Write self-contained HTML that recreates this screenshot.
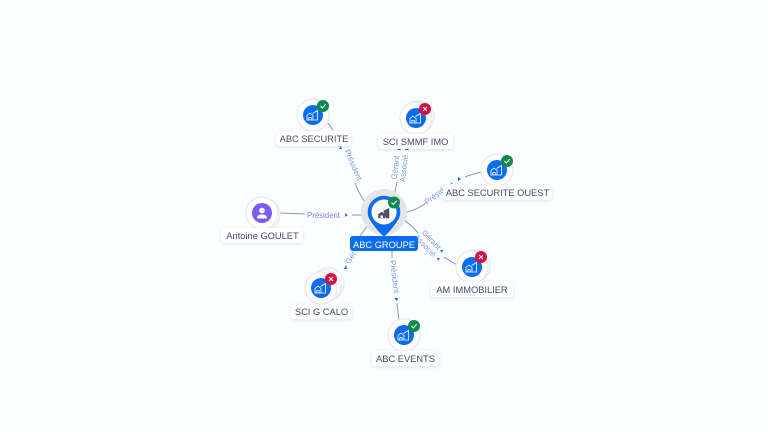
<!DOCTYPE html>
<html><head><meta charset="utf-8">
<style>
html,body{margin:0;padding:0;background:#fbfdff;width:768px;height:432px;overflow:hidden}
svg{display:block}
.lab{font:9.3px "Liberation Sans",sans-serif;fill:#3f4a70;text-anchor:middle}
.edge{font:7.8px "Liberation Sans",sans-serif;fill:#7a98ea;text-anchor:middle}
.ln{fill:none;stroke:#8f95ab;stroke-width:1}
.wh{fill:#fff;stroke:#e6e8ee;stroke-width:1.2}
</style></head>
<body>
<svg width="768" height="432" viewBox="0 0 768 432" xmlns="http://www.w3.org/2000/svg">
<defs>
<filter id="s" x="-20%" y="-40%" width="140%" height="200%"><feDropShadow dx="0" dy="1" stdDeviation="1.6" flood-color="#8090b0" flood-opacity=".25"/></filter>
<g id="house"><circle r="10" fill="#0c6cf0"/><path d="M-6 5V.5L-3-2 0 .5V5M-4.200 5V2.500H-1.800V5M-.5-1.500 4.500-4.500V5H-6.500" fill="none" stroke="#fff" stroke-width=".8"/></g>
<g id="ok"><circle r="6" fill="#0f8a4a"/><path d="M-2.500 0-.7 2 2.700-1.800" fill="none" stroke="#fff" stroke-width="1"/></g>
<g id="ko"><circle r="6" fill="#d20f45"/><path d="M-2-2 2 2M2-2-2 2" fill="none" stroke="#fff" stroke-width="1"/></g>
</defs>

<!-- connectors -->
<path class="ln" d="M328 123 333 130"/>
<path class="ln" d="M355 183Q360 197 370 209"/>
<path class="ln" d="M397 182 394 197"/>
<path class="ln" d="M398 214Q416 211 426 203"/>
<path class="ln" d="M465 177Q472 174 482 172"/>
<path class="ln" d="M400 218Q410 223 418 233"/>
<path class="ln" d="M444 257Q450 261 457 265"/>
<path class="ln" d="M392 250V258"/>
<path class="ln" d="M397 303 399 321"/>
<path class="ln" d="M370 222 360 236"/>
<path class="ln" d="M280 213 305 214"/>
<path class="ln" d="M352 215H368"/>

<!-- edge labels -->
<text x="323.500" y="218" class="edge" style="fill:#8b78ee">Président</text>
<path d="M345 213 348 215 345 217Z" fill="#7b5cf0"/>
<text class="edge" transform="translate(351,166) rotate(67)">Président</text>
<path d="M339 149 340.500 146 342 149Z" fill="#0c6cf0"/>
<g transform="translate(400,168) rotate(-83)"><text class="edge" y="-2">Gérant</text><text class="edge" y="6.500">Associé</text></g>
<path d="M397 150 399 147 401 150ZM405 150 407 147 409 150Z" fill="#0c6cf0"/>
<text class="edge" transform="translate(436,198) rotate(-38)">Présid</text>
<path d="M458 177 461 179 458 181Z" fill="#0c6cf0"/>
<path d="M451 182.500 453 183 451 184.500Z" fill="#5d7fdd"/>
<g transform="translate(428,243) rotate(47)"><text class="edge" y="-2">Gérant</text><text class="edge" y="6.500">Associé</text></g>
<path d="M440 250 443 250 442 253ZM437 258 440 258 438 261Z" fill="#0c6cf0"/>
<text class="edge" transform="translate(392,277) rotate(83)">Président</text>
<path d="M394.500 298 398.500 298 396.500 301Z" fill="#0c6cf0"/>
<text class="edge" transform="translate(353,259) rotate(-58)">Gér</text>
<path d="M344 269 346 265 347 269Z" fill="#0c6cf0"/>

<!-- ABC SECURITE -->
<g transform="translate(313,115)"><circle class="wh" r="16"/><use href="#house"/><use href="#ok" x="10" y="-9"/></g>
<rect x="276" y="131" width="75" height="15" rx="3" fill="#fff" filter="url(#s)"/>
<text x="314" y="142" class="lab">ABC SECURITE</text>

<!-- SCI SMMF IMO -->
<g transform="translate(416,118)"><circle class="wh" cx="2" cy="-1" r="16"/><circle class="wh" r="16"/><use href="#house"/><use href="#ko" x="9" y="-9"/></g>
<rect x="378" y="134" width="75" height="15" rx="3" fill="#fff" filter="url(#s)"/>
<text x="415.500" y="145" class="lab">SCI SMMF IMO</text>

<!-- OUEST -->
<g transform="translate(497,170)"><circle class="wh" r="16"/><use href="#house"/><use href="#ok" x="10" y="-9"/></g>
<rect x="443" y="185" width="109" height="15" rx="3" fill="#fff" filter="url(#s)"/>
<text x="497.500" y="196" class="lab">ABC SECURITE OUEST</text>

<!-- AM IMMOBILIER -->
<g transform="translate(472,267)"><circle class="wh" cx="2" cy="-1" r="16"/><circle class="wh" r="16"/><use href="#house"/><use href="#ko" x="9" y="-10"/></g>
<rect x="431" y="282" width="82" height="15" rx="3" fill="#fff" filter="url(#s)"/>
<text x="472" y="293" class="lab">AM IMMOBILIER</text>

<!-- ABC EVENTS -->
<g transform="translate(404,335)"><circle class="wh" r="16"/><use href="#house"/><use href="#ok" x="10" y="-9"/></g>
<rect x="372" y="351" width="67" height="15" rx="3" fill="#fff" filter="url(#s)"/>
<text x="405.500" y="362" class="lab">ABC EVENTS</text>

<!-- SCI G CALO -->
<g transform="translate(321,288)"><circle class="wh" cx="7" cy="-4" r="16"/><circle class="wh" cx="4" cy="-2" r="16"/><circle class="wh" r="16"/><use href="#house"/><use href="#ko" x="10" y="-9"/></g>
<rect x="291" y="304" width="61" height="15" rx="3" fill="#fff" filter="url(#s)"/>
<text x="321.500" y="315" class="lab">SCI G CALO</text>

<!-- Antoine -->
<g transform="translate(262,213)"><circle class="wh" cx="2" cy="1" r="16"/><circle class="wh" r="16"/><circle r="10" fill="#7b5cf0"/><circle cy="-2.500" r="2.800" fill="#fff"/><path d="M-5 5.500C-5 2-2.500 1.500 0 1.500S5 2 5 5.500Z" fill="#fff"/></g>
<rect x="221" y="228" width="82" height="15" rx="3" fill="#fff" filter="url(#s)"/>
<text x="262.500" y="239" class="lab">Antoine GOULET</text>

<!-- Center -->
<circle cx="384" cy="212" r="23" fill="#e3e5e9"/>
<path d="M368.800 218A16.300 16.300 0 1 1 399.200 218Q394 227 386 235Q384 237 382 235Q374 227 368.800 218Z" fill="#0c6cf0"/>
<circle cx="384" cy="212" r="12.500" fill="#fff"/>
<path d="M378.500 218V214.500L382 212 385 214.500V218ZM383.500 211 389 208.500V218H386" fill="#4a5168" stroke="#4a5168" stroke-width=".6"/>
<path d="M380.500 218V215.500H383V218" fill="#fff"/>
<use href="#ok" x="394" y="202.500"/>
<rect x="350" y="236" width="68" height="15" rx="3" fill="#0c6cf0"/>
<text x="384" y="248" class="lab" style="fill:#fff">ABC GROUPE</text>
</svg>
</body></html>
